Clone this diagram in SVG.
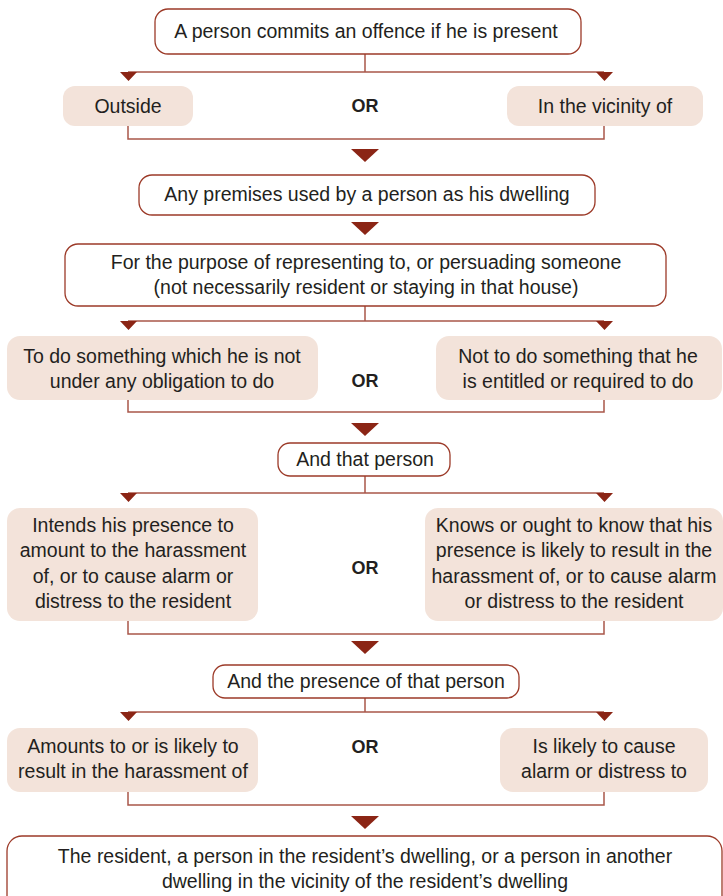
<svg xmlns="http://www.w3.org/2000/svg" width="723" height="896" viewBox="0 0 723 896">
<defs>
<style>
text{font-family:"Liberation Sans",Arial,sans-serif;font-size:19.5px;fill:#231f20;text-anchor:middle}
.or{font-weight:bold;font-size:18px}
.ob{fill:#fff;stroke:#9c3a28;stroke-width:1.3}
.fb{fill:#f3e3da;stroke:none}
.ln{fill:none;stroke:#a9574a;stroke-width:1.5}
.ar{fill:#8b2515}
</style>
</defs>
<rect width="723" height="896" fill="#fff"/>
<g id="connectors">
<path class="ln" d="M365 54V72M128 72H604"/>
<path class="ar" d="M120 72h17l-8.5 9z M596 72h17l-8.5 9z"/>
<path class="ln" d="M128 126V139H604V126"/>
<path class="ar" d="M351 149h28l-14 13z"/>
<path class="ar" d="M351 222h28l-14 13z"/>
<path class="ln" d="M365 306V321M128 321H604"/>
<path class="ar" d="M120 321h17l-8.5 9z M596 321h17l-8.5 9z"/>
<path class="ln" d="M128 400V412H604V400"/>
<path class="ar" d="M351 423h28l-14 13z"/>
<path class="ln" d="M365 476V493M128 493H604"/>
<path class="ar" d="M120 493h17l-8.5 9z M596 493h17l-8.5 9z"/>
<path class="ln" d="M128 621V634H604V621"/>
<path class="ar" d="M351 641h28l-14 13z"/>
<path class="ln" d="M365 698V712M128 712H604"/>
<path class="ar" d="M120 712h17l-8.5 9z M596 712h17l-8.5 9z"/>
<path class="ln" d="M128 792V805H604V792"/>
<path class="ar" d="M351 816h28l-14 13z"/>
</g>
<g id="n1"><rect class="ob" x="155" y="9" width="426" height="45" rx="13"/><text x="366" y="38">A person commits an offence if he is present</text></g>
<g id="n2"><rect class="fb" x="63" y="86" width="130" height="40" rx="12"/><text x="128" y="113">Outside</text></g>
<g id="or1"><text class="or" x="365" y="112">OR</text></g>
<g id="n3"><rect class="fb" x="507" y="86" width="196" height="40" rx="12"/><text x="605" y="113">In the vicinity of</text></g>
<g id="n4"><rect class="ob" x="139" y="175" width="456" height="40" rx="13"/><text x="367" y="201">Any premises used by a person as his dwelling</text></g>
<g id="n5"><rect class="ob" x="65" y="244" width="601" height="62" rx="13"/><text x="366" y="269">For the purpose of representing to, or persuading someone</text><text x="366" y="294">(not necessarily resident or staying in that house)</text></g>
<g id="n6"><rect class="fb" x="7" y="336" width="311" height="64" rx="13"/><text x="162" y="363">To do something which he is not</text><text x="162" y="388">under any obligation to do</text></g>
<g id="or2"><text class="or" x="365" y="387">OR</text></g>
<g id="n7"><rect class="fb" x="436" y="336" width="286" height="64" rx="13"/><text x="578" y="363">Not to do something that he</text><text x="578" y="388">is entitled or required to do</text></g>
<g id="n8"><rect class="ob" x="278" y="443" width="172" height="33" rx="12"/><text x="365" y="466">And that person</text></g>
<g id="n9"><rect class="fb" x="7" y="508" width="251" height="113" rx="13"/><text x="133" y="532">Intends his presence to</text><text x="133" y="557">amount to the harassment</text><text x="133" y="583">of, or to cause alarm or</text><text x="133" y="608">distress to the resident</text></g>
<g id="or3"><text class="or" x="365" y="574">OR</text></g>
<g id="n10"><rect class="fb" x="425" y="508" width="298" height="113" rx="13"/><text x="574" y="532">Knows or ought to know that his</text><text x="574" y="557">presence is likely to result in the</text><text x="574" y="583">harassment of, or to cause alarm</text><text x="574" y="608">or distress to the resident</text></g>
<g id="n11"><rect class="ob" x="213" y="665" width="306" height="33" rx="12"/><text x="366" y="688">And the presence of that person</text></g>
<g id="n12"><rect class="fb" x="7" y="728" width="251" height="64" rx="13"/><text x="133" y="753">Amounts to or is likely to</text><text x="133" y="778">result in the harassment of</text></g>
<g id="or4"><text class="or" x="365" y="753">OR</text></g>
<g id="n13"><rect class="fb" x="500" y="728" width="208" height="64" rx="13"/><text x="604" y="753">Is likely to cause</text><text x="604" y="778">alarm or distress to</text></g>
<g id="n14"><rect class="ob" x="7" y="836" width="715" height="75" rx="15"/><text x="365" y="863">The resident, a person in the resident’s dwelling, or a person in another</text><text x="365" y="888">dwelling in the vicinity of the resident’s dwelling</text></g>
</svg>
